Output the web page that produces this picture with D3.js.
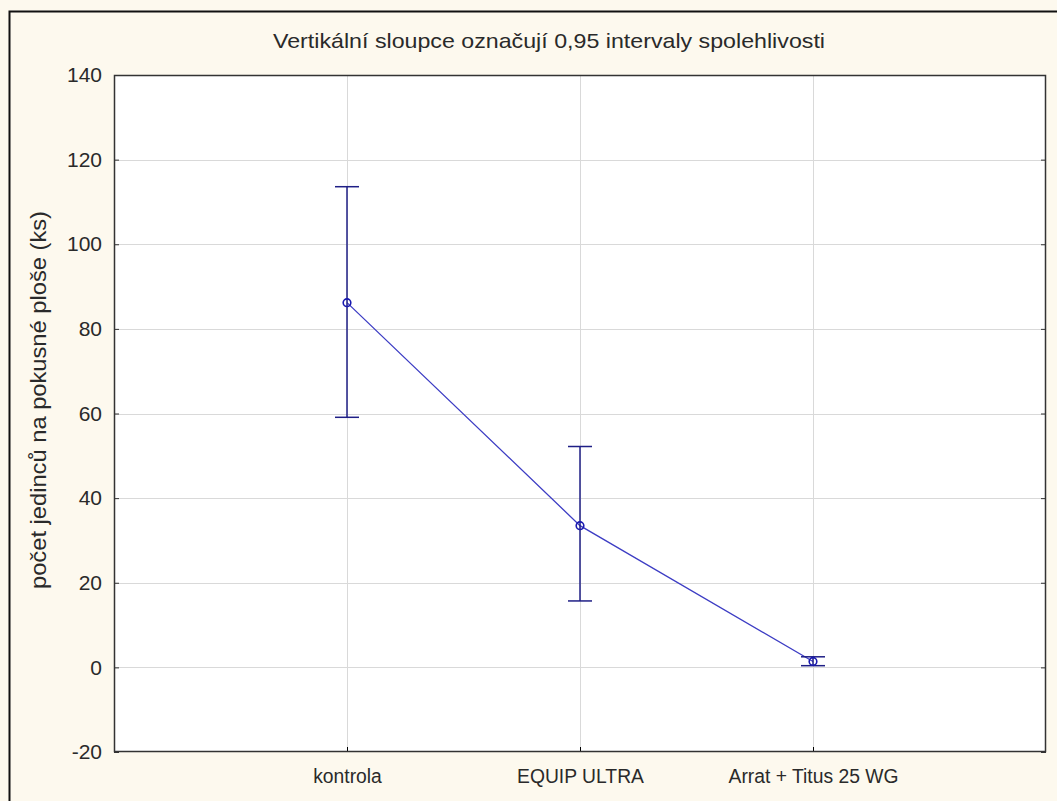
<!DOCTYPE html>
<html><head><meta charset="utf-8">
<script src="https://cdn.jsdelivr.net/npm/d3@7"></script>
<style>body{margin:0;background:#fdf9ee;} svg{display:block;}</style>
</head><body>
<script>
const categories = ["kontrola", "EQUIP ULTRA", "Arrat + Titus 25 WG"];
const means = [86.2, 33.5, 1.4];
const upper = [113.6, 52.2, 2.5];
const lower = [59.1, 15.7, 0.4];
const yTicks = [-20, 0, 20, 40, 60, 80, 100, 120, 140];
const title = "Vertikální sloupce označují 0,95 intervaly spolehlivosti";
const yLabel = "počet jedinců na pokusné ploše (ks)";

const W = 1057, H = 801;
const svg = d3.select("body").append("svg").attr("width", W).attr("height", H);
svg.append("rect").attr("width", W).attr("height", H).attr("fill", "#fdf9ee");
svg.append("path").attr("d", "M9.5,801 V11.5 H1057").attr("fill", "none").attr("stroke", "#111").attr("stroke-width", 2);

const L = 114, R = 1046, T = 75, B = 752;
const x = d3.scaleLinear().domain([0, categories.length + 1]).range([L, R]);
const y = d3.scaleLinear().domain([-20, 140]).range([B, T]);

svg.append("rect").attr("x", L).attr("y", T).attr("width", R - L).attr("height", B - T).attr("fill", "#fff");

const g = svg.append("g");
g.selectAll(".hg").data(yTicks.slice(1, -1)).join("line")
  .attr("x1", L).attr("x2", R).attr("y1", d => Math.round(y(d)) + 0.5).attr("y2", d => Math.round(y(d)) + 0.5)
  .attr("stroke", "#d9d9d9").attr("stroke-width", 1);
g.selectAll(".vg").data(categories).join("line")
  .attr("x1", (d, i) => Math.round(x(i + 1)) + 0.5).attr("x2", (d, i) => Math.round(x(i + 1)) + 0.5)
  .attr("y1", T).attr("y2", B).attr("stroke", "#d9d9d9").attr("stroke-width", 1);

const font = "'Liberation Sans', Arial, sans-serif";
const yAxis = d3.axisLeft(y).tickValues(yTicks).tickSize(-5).tickPadding(12).tickFormat(d => String(d));
const ya = svg.append("g").attr("transform", `translate(${L},0)`).call(yAxis);
ya.select(".domain").remove();
ya.selectAll("text").attr("font-family", font).attr("font-size", 21).attr("fill", "#2a2a2a");
ya.selectAll("line").attr("stroke", "#333");
const yAxisR = d3.axisRight(y).tickValues(yTicks).tickSize(-5).tickFormat("");
const yr = svg.append("g").attr("transform", `translate(${R},0)`).call(yAxisR);
yr.select(".domain").remove(); yr.selectAll("line").attr("stroke", "#333");

const xAxis = d3.axisBottom(x).tickValues(categories.map((d, i) => i + 1)).tickFormat((d) => categories[d - 1]).tickSize(-5).tickPadding(16);
const xa = svg.append("g").attr("transform", `translate(0,${B})`).call(xAxis);
xa.select(".domain").remove();
xa.selectAll("text").attr("font-family", font).attr("font-size", 21).attr("fill", "#2a2a2a")
  .attr("transform", function () { const t = d3.select(this.parentNode); return null; });
xa.selectAll(".tick text").each(function () {
  d3.select(this).attr("transform", "scale(0.92,1)");
});

svg.append("rect").attr("x", L + 0.5).attr("y", T + 0.5).attr("width", R - L - 1).attr("height", B - T - 1)
  .attr("fill", "none").attr("stroke", "#333").attr("stroke-width", 1.5);

const pts = categories.map((c, i) => ({ i, m: means[i], lo: lower[i], hi: upper[i] }));
svg.append("path").datum(pts)
  .attr("d", d3.line().x(d => x(d.i + 1)).y(d => y(d.m)))
  .attr("fill", "none").attr("stroke", "#3d3dc4").attr("stroke-width", 1.3);

const eb = svg.append("g").attr("stroke", "#1f1f86").attr("stroke-width", 1.5).attr("fill", "none");
eb.selectAll(".v").data(pts).join("line")
  .attr("x1", d => x(d.i + 1)).attr("x2", d => x(d.i + 1)).attr("y1", d => y(d.hi)).attr("y2", d => y(d.lo));
eb.selectAll(".u").data(pts).join("line")
  .attr("x1", d => x(d.i + 1) - 12).attr("x2", d => x(d.i + 1) + 12).attr("y1", d => y(d.hi)).attr("y2", d => y(d.hi));
eb.selectAll(".l").data(pts).join("line")
  .attr("x1", d => x(d.i + 1) - 12).attr("x2", d => x(d.i + 1) + 12).attr("y1", d => y(d.lo)).attr("y2", d => y(d.lo));
svg.selectAll(".pt").data(pts).join("circle")
  .attr("cx", d => x(d.i + 1)).attr("cy", d => y(d.m)).attr("r", 3.8)
  .attr("fill", "none").attr("stroke", "#1a1ab0").attr("stroke-width", 1.6);

svg.append("text").attr("x", 549).attr("y", 48).attr("text-anchor", "middle")
  .attr("font-family", font).attr("font-size", 21).attr("fill", "#2a2a2a")
  .attr("textLength", 552).attr("lengthAdjust", "spacingAndGlyphs").text(title);
svg.append("text").attr("transform", `translate(46,400) rotate(-90)`).attr("text-anchor", "middle")
  .attr("font-family", font).attr("font-size", 22).attr("fill", "#2a2a2a")
  .attr("textLength", 378).attr("lengthAdjust", "spacingAndGlyphs").text(yLabel);
</script>
</body></html>
